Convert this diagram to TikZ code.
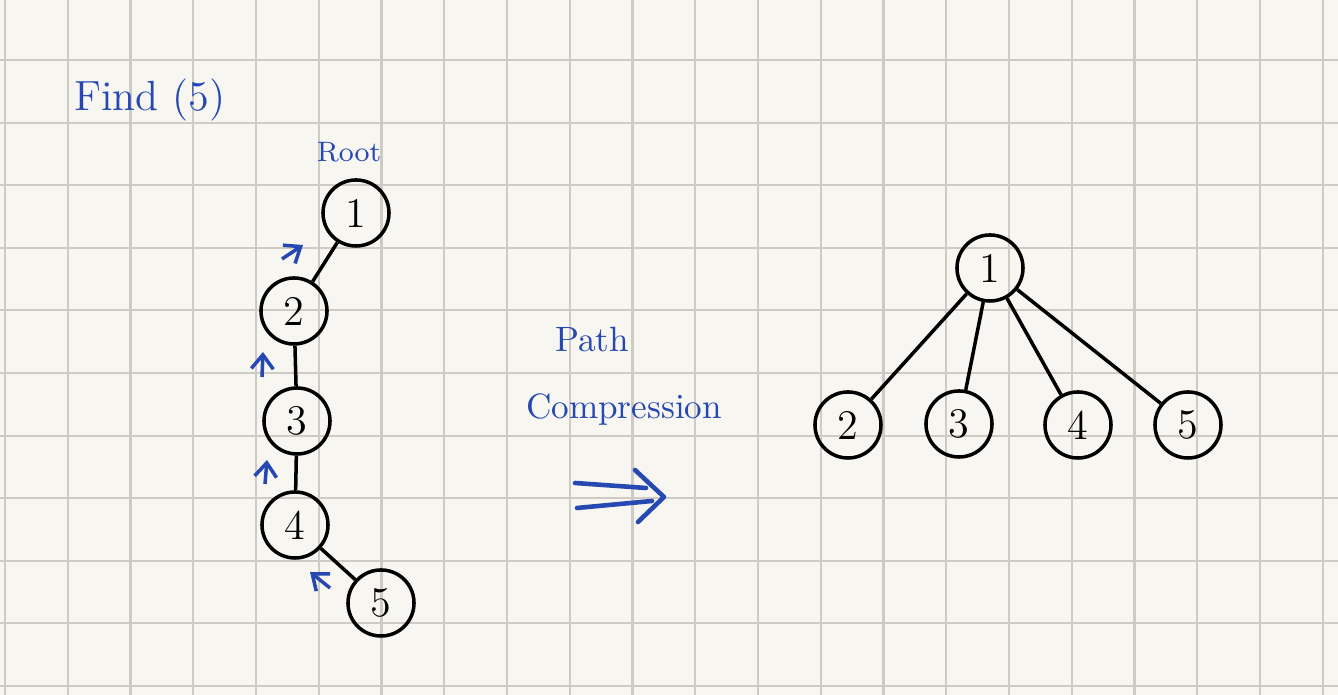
\documentclass[tikz,border=0pt]{standalone}
\usepackage{xcolor}
\usepackage{tikz}
\usetikzlibrary{arrows.meta}

\definecolor{paper}{RGB}{247,246,241}
\definecolor{gridgray}{RGB}{206,203,197}
\definecolor{ink}{RGB}{38,72,178}

\tikzset{
	vertex/.style={draw, circle, line width=1pt, minimum size=0.66cm, inner sep=0pt, font=\large},
	edge/.style={line width=1pt},
	hint/.style={ink, line width=1pt, -{Straight Barb[length=1.4mm, width=2.2mm]}},
	note/.style={ink, inner sep=0pt}
}

\begin{document}
\begin{tikzpicture}[x=0.01cm, y=-0.01cm]
			% paper and grid
			\fill[paper] (0,0) rectangle (1338,695);
			\useasboundingbox (0,0) rectangle (1338,695);
			\foreach \i in {0,...,21}
				\draw[gridgray, line width=0.6pt] ({5+62.75*\i},0) -- ({5+62.75*\i},695);
			\foreach \j in {0,...,10}
				\draw[gridgray, line width=0.6pt] (0,{60+62.6*\j}) -- (1338,{60+62.6*\j});

			% labels
			\node[note, font=\large] (find) at (150,100) {Find (5)};
			\node[note, font=\footnotesize] (root) at (349,152) {Root};
			\node[note] (path) at (592,340) {Path};
			\node[note] (comp) at (624,410) {Compression};

			% tree before
			\node[vertex] (a1) at (356,213) {1};
			\node[vertex] (a2) at (294,311) {2};
			\node[vertex] (a3) at (297,421) {3};
			\node[vertex] (a4) at (295,525) {4};
			\node[vertex] (a5) at (381,603) {5};
			\draw[edge] (a2) -- (a1);
			\draw[edge] (a3) -- (a2);
			\draw[edge] (a4) -- (a3);
			\draw[edge] (a5) -- (a4);

			% find walks up
			\coordinate (h1s) at (282,259); \coordinate (h1e) at (303,245);
			\coordinate (h2s) at (262,377); \coordinate (h2e) at (263,352);
			\coordinate (h3s) at (265,484); \coordinate (h3e) at (267,460);
			\coordinate (h4s) at (330,588); \coordinate (h4e) at (310,572);
			\draw[hint] (h1s) -- (h1e);
			\draw[hint] (h2s) -- (h2e);
			\draw[hint] (h3s) -- (h3e);
			\draw[hint] (h4s) -- (h4e);

			% big arrow
			\coordinate (up) at (575,483);
			\coordinate (low) at (577,508);
			\coordinate (tip) at (664,497);
			\coordinate (barbT) at (635,470);
			\coordinate (barbB) at (638,522);
			\draw[ink, line width=1.3pt, line cap=round] (up) -- (646,488);
			\draw[ink, line width=1.3pt, line cap=round] (low) -- (652,501);
			\draw[ink, line width=1.3pt, line cap=round, line join=round] (barbT) -- (tip) -- (barbB);

			% tree after
			\node[vertex] (b1) at (990,268) {1};
			\node[vertex] (b2) at (848,425) {2};
			\node[vertex] (b3) at (959,424) {3};
			\node[vertex] (b4) at (1078,425) {4};
			\node[vertex] (b5) at (1188,425) {5};
			\foreach \k in {2,...,5}
				\draw[edge] (b1) -- (b\k);
		\end{tikzpicture}
\end{document}
